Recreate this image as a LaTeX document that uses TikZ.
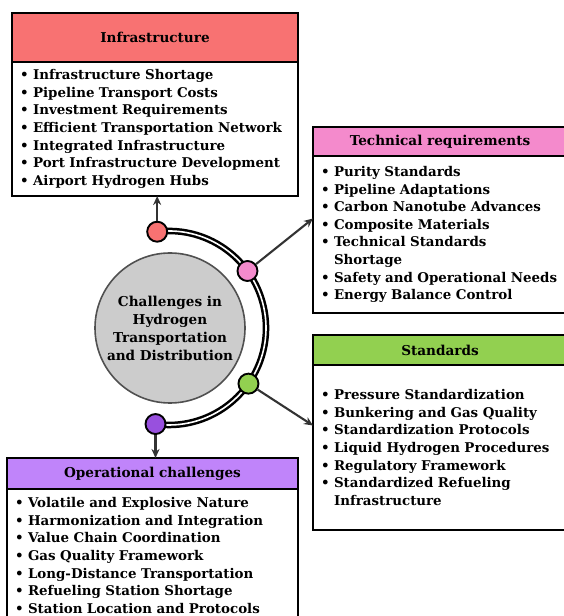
\documentclass[tikz,border=0pt]{standalone}
\usepackage{fontspec}
\setmainfont{DejaVu Serif}
\usetikzlibrary{positioning,arrows.meta,calc}
\definecolor{infrared}{RGB}{248,114,114}
\definecolor{techpink}{RGB}{244,138,204}
\definecolor{stdgreen}{RGB}{146,208,80}
\definecolor{oplilac}{RGB}{192,132,250}
\definecolor{opdot}{RGB}{152,80,222}
\definecolor{hubgray}{RGB}{204,204,204}
\definecolor{hubedge}{RGB}{80,80,80}
\definecolor{linkgray}{RGB}{51,51,51}
\newcommand{\bul}{\textbullet\ }
\newcommand{\cont}{\hphantom{\textbullet\ }}

\begin{document}
\begin{tikzpicture}[x=1pt,y=1pt,
    head/.style={draw, line width=2.8pt, rectangle, anchor=north west, outer sep=0pt, inner sep=0pt, font=\bfseries\fontsize{13.6}{15}\selectfont},
    body/.style={draw, line width=2.8pt, rectangle, outer sep=0pt, inner xsep=8pt, inner ysep=0pt, align=left, fill=white, font=\bfseries\fontsize{13.4}{17.6}\selectfont},
    dot/.style={circle, draw, line width=1.9pt, minimum size=20pt, inner sep=0pt},
    link/.style={draw=linkgray, line width=2.1pt, -{Stealth[length=9pt,width=8pt]}}]
    \useasboundingbox (0,0) rectangle (563,616);

    % Infrastructure
    \node[head, fill=infrared, minimum width=286pt, minimum height=49pt] (infhead) at (12,603) {Infrastructure};
    \node[body, below=0pt of infhead, minimum width=286pt, minimum height=134pt, text width=270pt] (infbody) {%
        \bul Infrastructure Shortage\\
        \bul Pipeline Transport Costs\\
        \bul Investment Requirements\\
        \bul Efficient Transportation Network\\
        \bul Integrated Infrastructure\\
        \bul Port Infrastructure Development\\
        \bul Airport Hydrogen Hubs};

    % Technical requirements
    \node[head, fill=techpink, minimum width=254pt, minimum height=29pt] (techhead) at (313,489) {Technical requirements};
    \node[body, below=0pt of techhead, minimum width=254pt, minimum height=157pt, text width=238pt] (techbody) {%
        \bul Purity Standards\\
        \bul Pipeline Adaptations\\
        \bul Carbon Nanotube Advances\\
        \bul Composite Materials\\
        \bul Technical Standards\\
        \cont Shortage\\
        \bul Safety and Operational Needs\\
        \bul Energy Balance Control};

    % Standards
    \node[head, fill=stdgreen, minimum width=254pt, minimum height=30pt] (stdhead) at (313,281) {Standards};
    \node[body, below=0pt of stdhead, minimum width=254pt, minimum height=165pt, text width=238pt] (stdbody) {%
        \bul Pressure Standardization\\
        \bul Bunkering and Gas Quality\\
        \bul Standardization Protocols\\
        \bul Liquid Hydrogen Procedures\\
        \bul Regulatory Framework\\
        \bul Standardized Refueling\\
        \cont Infrastructure};

    % Operational challenges
    \node[head, fill=oplilac, minimum width=291pt, minimum height=31pt] (ophead) at (7,158) {Operational challenges};
    \node[body, below=0pt of ophead, minimum width=291pt, minimum height=133pt, text width=275pt] (opbody) {%
        \bul Volatile and Explosive Nature\\
        \bul Harmonization and Integration\\
        \bul Value Chain Coordination\\
        \bul Gas Quality Framework\\
        \bul Long-Distance Transportation\\
        \bul Refueling Station Shortage\\
        \bul Station Location and Protocols};

    % Hub and arc
    \node[circle, draw=hubedge, fill=hubgray, line width=1.6pt, minimum size=150pt, inner sep=0pt, align=center,
          font=\bfseries\fontsize{13.6}{18}\selectfont] (hub) at (170,288)
          {Challenges in\\Hydrogen\\Transportation\\and Distribution};
    \coordinate (arcc) at (169,288);
    \draw[line width=2.5pt, double=white, double distance=1.6pt] ([shift={(97:97)}]arcc) arc[start angle=97, end angle=-98, radius=97];

    \node[dot, fill=infrared] (dinf) at ([shift={(97:97)}]arcc) {};
    \node[dot, fill=techpink] (dtech) at ([shift={(36:97)}]arcc) {};
    \node[dot, fill=stdgreen] (dstd) at ([shift={(-35:97)}]arcc) {};
    \node[dot, fill=opdot] (dop) at ([shift={(-98:97)}]arcc) {};

    % Links
    \draw[link] (dinf) -- (dinf |- infbody.south);
    \draw[link] (dtech) -- ($(techbody.west)+(0,16)$);
    \draw[link] (dstd) -- ($(stdbody.west)+(0,22)$);
    \draw[link] (dop) -- (dop |- ophead.north);
\end{tikzpicture}
\end{document}
